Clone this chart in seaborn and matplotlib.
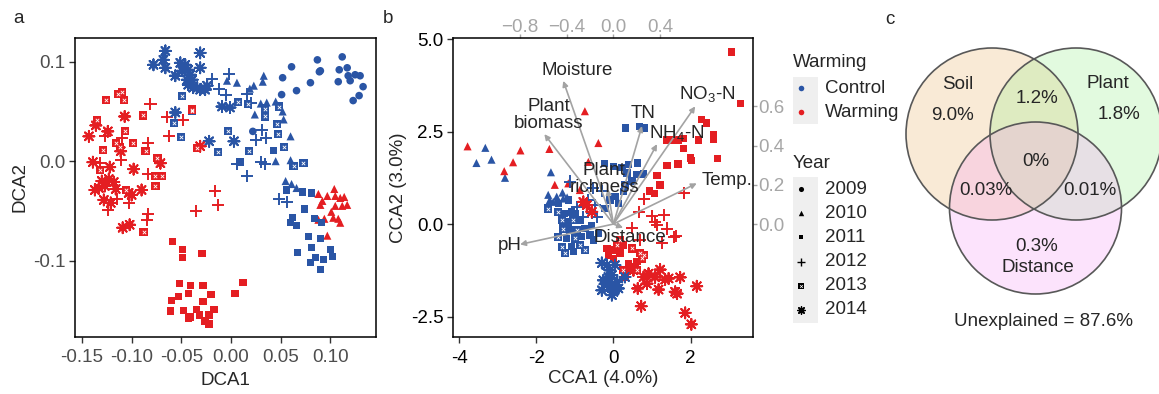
import matplotlib
matplotlib.use("Agg")
import pandas as pd
import matplotlib.pyplot as plt
from matplotlib.patches import Circle, Rectangle
import seaborn as sns

# ---------------- panel a: DCA scores (DCA1, DCA2) ----------------
a_ctrl_2009 = [(0.061, 0.095), (0.052, 0.084), (0.066, 0.071), (0.051, 0.067), (0.080, 0.079),
               (0.087, 0.102), (0.090, 0.091), (0.112, 0.105), (0.109, 0.092), (0.117, 0.094),
               (0.118, 0.086), (0.108, 0.080), (0.120, 0.081), (0.125, 0.087), (0.130, 0.086),
               (0.133, 0.075), (0.129, 0.066), (0.123, 0.061), (0.022, 0.030), (0.089, 0.090)]
a_ctrl_2010 = [(-0.004, 0.081), (0.006, 0.079), (0.023, 0.076), (0.019, 0.073), (0.033, 0.086),
               (0.032, 0.080), (0.030, 0.058), (0.036, 0.059), (0.045, 0.060), (0.052, 0.050),
               (0.053, 0.042), (0.024, 0.047), (0.060, 0.025), (0.045, 0.000), (0.060, 0.001),
               (0.055, -0.020), (0.061, -0.023), (0.066, -0.027)]
a_ctrl_2011 = [(0.009, -0.001), (0.043, 0.011), (0.056, -0.029), (0.072, -0.031), (0.081, -0.032),
               (0.074, -0.048), (0.062, -0.057), (0.060, -0.062), (0.066, -0.065), (0.084, -0.058),
               (0.091, -0.062), (0.078, -0.076), (0.090, -0.078), (0.067, -0.092), (0.081, -0.087),
               (0.100, -0.089), (0.102, -0.096), (0.085, -0.097), (0.080, -0.102), (0.093, -0.099),
               (0.090, -0.109)]
a_ctrl_2012 = [(-0.019, 0.083), (-0.002, 0.088), (-0.012, 0.073), (-0.005, 0.067), (0.016, 0.068),
               (0.020, 0.059), (0.031, 0.031), (0.035, 0.023), (0.025, 0.021), (0.006, -0.003),
               (0.030, -0.001), (0.034, -0.003), (0.016, -0.015), (0.048, -0.038), (0.056, -0.041)]
a_ctrl_2013 = [(-0.049, 0.066), (-0.057, 0.038), (-0.039, 0.051), (-0.050, 0.024), (-0.003, 0.030),
               (-0.013, 0.009), (0.007, 0.060), (0.017, 0.058), (0.034, 0.053), (0.034, 0.045),
               (0.048, 0.055), (0.047, 0.027), (0.053, 0.014), (0.018, 0.010), (0.063, -0.005),
               (0.073, -0.002), (0.046, 0.037)]
a_ctrl_2014 = [(-0.066, 0.111), (-0.068, 0.102), (-0.078, 0.097), (-0.066, 0.094), (-0.056, 0.086),
               (-0.051, 0.099), (-0.049, 0.091), (-0.046, 0.097), (-0.043, 0.092), (-0.041, 0.087),
               (-0.039, 0.082), (-0.044, 0.082), (-0.031, 0.109), (-0.031, 0.094), (-0.034, 0.074),
               (-0.031, 0.072), (-0.026, 0.072), (-0.024, 0.076), (-0.043, 0.077), (-0.038, 0.074),
               (-0.056, 0.049), (-0.009, 0.055), (-0.001, 0.054), (0.003, 0.020), (-0.022, 0.020)]
a_warm_2010 = [(0.104, -0.028), (0.088, -0.033), (0.097, -0.035), (0.092, -0.040), (0.090, -0.044),
               (0.105, -0.035), (0.110, -0.037), (0.114, -0.036), (0.112, -0.045), (0.117, -0.044),
               (0.105, -0.045), (0.101, -0.051), (0.094, -0.058), (0.088, -0.059), (0.103, -0.057),
               (0.108, -0.058), (0.110, -0.062), (0.097, -0.075)]
a_warm_2011 = [(-0.059, -0.081), (-0.049, -0.089), (-0.049, -0.097), (-0.029, -0.093), (-0.052, -0.123),
               (-0.041, -0.125), (-0.028, -0.125), (-0.043, -0.133), (-0.053, -0.136), (-0.020, -0.134),
               (-0.060, -0.140), (-0.028, -0.141), (-0.061, -0.151), (-0.048, -0.150), (-0.035, -0.149),
               (-0.017, -0.149), (-0.041, -0.157), (-0.032, -0.155), (-0.043, -0.158), (-0.022, -0.155),
               (-0.026, -0.161), (-0.022, -0.164), (0.012, -0.122), (0.004, -0.133)]
a_warm_2012 = [(-0.081, 0.058), (-0.064, 0.044), (-0.048, 0.041), (-0.062, 0.025), (-0.084, 0.018),
               (-0.127, 0.025), (-0.110, 0.023), (-0.111, 0.001), (-0.132, -0.002), (-0.084, -0.013),
               (-0.016, -0.030), (-0.013, -0.044), (-0.035, -0.050), (-0.084, -0.053), (-0.085, -0.059),
               (-0.103, -0.042), (-0.115, -0.038), (-0.124, -0.049)]
a_warm_2013 = [(-0.126, 0.062), (-0.114, 0.068), (-0.110, 0.070), (-0.108, 0.062), (-0.135, 0.041),
               (-0.089, 0.046), (-0.107, 0.030), (-0.129, 0.011), (-0.116, 0.018), (-0.112, 0.014),
               (-0.099, 0.018), (-0.086, 0.010), (-0.074, 0.003), (-0.132, -0.009), (-0.076, -0.015),
               (-0.069, -0.015), (-0.076, -0.025), (-0.106, -0.029), (-0.039, 0.052), (-0.034, 0.013),
               (-0.088, -0.071)]
a_warm_2014 = [(-0.143, 0.025), (-0.136, 0.036), (-0.124, 0.030), (-0.107, 0.045), (-0.139, -0.001),
               (-0.122, -0.006), (-0.098, -0.008), (-0.071, -0.002), (-0.031, 0.015), (-0.133, -0.027),
               (-0.130, -0.020), (-0.127, -0.025), (-0.123, -0.018), (-0.116, -0.028), (-0.111, 0.010),
               (-0.103, -0.032), (-0.100, -0.034), (-0.090, -0.029), (-0.128, -0.039), (-0.121, -0.042),
               (-0.109, -0.067), (-0.102, -0.064), (-0.137, -0.029), (-0.118, -0.021)]

# ---------------- panel b: CCA site scores (CCA1, CCA2) ----------------
b_ctrl_2010 = [(-3.32, 2.06), (-3.55, 1.65), (-3.16, 1.74), (-2.81, 1.25), (-1.62, 1.40), (-1.69, 0.79),
               (-1.47, 0.74), (-1.32, 0.85), (-1.56, 0.60), (-1.65, 0.65), (-1.30, 0.69), (-1.20, 0.72)]
b_ctrl_2011 = [(0.32, 2.60), (0.68, 2.63), (0.81, 2.60), (-0.23, 1.63), (0.00, 1.56), (0.22, 1.52),
               (0.39, 1.61), (0.62, 1.65), (0.61, 1.34), (0.78, 1.35), (0.35, 1.38), (0.48, 1.16),
               (0.04, 0.74), (-0.09, 0.65), (0.13, 0.56), (-0.22, 0.42), (0.26, 0.88), (0.30, 1.06),
               (-1.43, 0.56), (-1.17, 0.65), (-1.08, 0.33), (-1.00, 0.29), (-1.17, 0.06), (-0.87, 0.11),
               (-1.13, -0.16), (-0.74, -0.12), (-0.56, -0.03), (-1.21, -0.39), (-0.82, -0.34),
               (-0.61, -0.30), (-1.08, -0.61), (-1.04, -0.75), (-0.52, -0.43), (-0.39, -0.25), (-1.26, 0.29)]
b_ctrl_2012 = [(-1.13, 1.15), (-0.65, 0.65), (-0.78, 0.20), (-0.56, 0.29), (-0.43, 0.20), (-0.78, -0.61),
               (-0.48, 0.51), (-0.52, 0.97), (-0.95, 0.45), (-0.30, 0.90)]
b_ctrl_2013 = [(-1.69, 0.42), (-1.43, 0.33), (-1.34, 0.11), (-1.04, 0.11), (-1.30, -0.12), (-0.95, -0.16),
               (-1.43, -0.34), (-1.00, -0.39), (-1.34, -0.61), (-0.87, -0.57), (-1.26, -0.79), (-0.74, -0.70)]
b_ctrl_2014 = [(-0.30, -1.05), (-0.17, -1.11), (0.04, -1.11), (-0.09, -1.25), (-0.04, -1.38), (-0.26, -1.52),
               (-0.17, -1.61), (-0.30, -1.79), (-0.09, -1.70), (0.00, -1.83), (-0.04, -1.92), (0.13, -1.74),
               (0.09, -1.56), (-0.13, -1.43), (0.30, -1.43)]
b_warm_2010 = [(-3.78, 2.10), (-2.83, 1.43), (-2.60, 1.67), (-2.41, 1.99), (-1.66, 2.03), (-0.74, 3.05),
               (-0.39, 2.19), (-0.65, 1.68), (-1.52, 1.06), (-1.17, 1.10), (-0.87, 0.92)]
b_warm_2011 = [(3.06, 4.65), (3.29, 3.26), (2.29, 2.82), (2.42, 2.73), (1.39, 2.27), (1.56, 2.27),
               (1.69, 2.27), (1.82, 2.32), (2.21, 2.27), (2.60, 2.42), (2.60, 2.28), (1.82, 2.05),
               (1.99, 1.79), (2.03, 1.72), (2.70, 1.77), (1.39, 1.58), (1.67, 1.62), (1.13, 1.31),
               (1.21, 1.06), (1.06, 0.83), (0.94, 0.89),
               (-0.17, -0.66), (-0.04, -0.70), (0.09, -0.70), (0.17, -0.78), (0.00, -0.93), (-0.13, -0.84),
               (0.26, -0.57), (0.39, -1.06), (0.30, -1.43), (0.56, -1.16), (0.61, -1.02), (0.43, -1.25)]
b_warm_2012 = [(1.84, 0.85), (0.80, 0.69), (0.67, 0.32), (1.00, 0.22), (1.30, 0.24), (1.08, 0.06),
               (1.13, -0.03), (1.39, -0.12), (0.48, -0.10), (1.62, -0.32), (1.56, -0.34), (1.26, -0.52),
               (0.69, -0.42)]
b_warm_2013 = [(0.48, -0.66), (0.69, -0.79), (0.74, -0.93), (0.61, -1.25), (0.26, -1.25), (0.09, -0.57),
               (0.17, -0.43), (0.78, -0.84)]
b_warm_2014 = [(1.21, -1.23), (1.08, -1.44), (0.78, -1.43), (0.87, -1.61), (0.63, -1.74), (1.17, -1.77),
               (1.34, -1.50), (1.43, -1.47), (1.73, -1.44), (1.60, -1.83), (1.65, -1.88), (2.16, -1.68),
               (0.72, -2.22), (1.86, -2.40), (2.02, -2.71), (0.91, -1.34), (0.52, -1.25),
               (-0.78, 0.60), (-0.69, 0.51), (-0.56, 0.33)]

# environmental vectors (arrow tips) and their label anchors
env_names = ['Moisture', 'Plant\nbiomass', 'TN', 'NH$_4$-N', 'NO$_3$-N', 'Temp.',
             'Plant\nrichness', 'Distance', 'pH']
env_x = [-1.30, -1.79, 0.74, 1.13, 2.12, 2.16, -0.15, 0.25, -2.42]
env_y = [3.87, 2.43, 2.65, 2.16, 3.18, 1.10, 0.95, -0.10, -0.55]
env_lab_x = [-0.94, -1.67, 0.76, 1.65, 2.42, 2.94, -0.24, 0.43, -2.70]
env_lab_y = [4.14, 2.95, 2.98, 2.44, 3.49, 1.19, 1.22, -0.36, -0.57]

# ---------------- panel c: variation partitioning ----------------
venn_sets = ['Soil', 'Plant', 'Distance']
venn_unique = ['9.0%', '1.8%', '0.3%']
venn_pairs = ['1.2%', '0.03%', '0.01%']   # soil-plant, soil-distance, plant-distance
venn_all = '0%'
unexplained = 87.6

years = [2009, 2010, 2011, 2012, 2013, 2014]
treatments = ['Control', 'Warming']
pal = {'Control': '#2A55A5', 'Warming': '#E41E22'}
year_markers = {2009: 'o', 2010: '^', 2011: 's', 2012: '+', 2013: 's', 2014: (8, 2, 0)}
year_sizes = {2009: 30, 2010: 34, 2011: 28, 2012: 75, 2013: 34, 2014: 62}


def to_frame(groups):
    rows = []
    for (trt, yr), pts in groups.items():
        for x, y in pts:
            rows.append((x, y, trt, yr))
    return pd.DataFrame(rows, columns=['x', 'y', 'Warming', 'Year'])


dca = to_frame({('Control', 2009): a_ctrl_2009, ('Control', 2010): a_ctrl_2010,
                ('Control', 2011): a_ctrl_2011, ('Control', 2012): a_ctrl_2012,
                ('Control', 2013): a_ctrl_2013, ('Control', 2014): a_ctrl_2014,
                ('Warming', 2010): a_warm_2010, ('Warming', 2011): a_warm_2011,
                ('Warming', 2012): a_warm_2012, ('Warming', 2013): a_warm_2013,
                ('Warming', 2014): a_warm_2014})
cca = to_frame({('Control', 2010): b_ctrl_2010, ('Control', 2011): b_ctrl_2011,
                ('Control', 2012): b_ctrl_2012, ('Control', 2013): b_ctrl_2013,
                ('Control', 2014): b_ctrl_2014,
                ('Warming', 2010): b_warm_2010, ('Warming', 2011): b_warm_2011,
                ('Warming', 2012): b_warm_2012, ('Warming', 2013): b_warm_2013,
                ('Warming', 2014): b_warm_2014})

sns.set_style('ticks')
plt.rcParams['font.family'] = ['Liberation Sans', 'DejaVu Sans']
plt.rcParams['mathtext.fontset'] = 'custom'
plt.rcParams['mathtext.rm'] = 'Liberation Sans'
plt.rcParams['axes.unicode_minus'] = False
FS = 13.5


def draw_points(ax, df):
    for yr in years:
        sub = df[df['Year'] == yr]
        if sub.empty:
            continue
        m = year_markers[yr]
        lw = 1.4 if (m == '+' or isinstance(m, tuple)) else 0
        sns.scatterplot(data=sub, x='x', y='y', hue='Warming', palette=pal, marker=m,
                        s=year_sizes[yr], linewidth=lw, legend=False, ax=ax)
        if yr == 2013:
            ax.scatter(sub['x'], sub['y'], marker='x', s=6, c='white', linewidths=0.6, zorder=3)


def style_axes(ax, tick_color):
    for sp in ax.spines.values():
        sp.set_visible(True)
        sp.set_color('black')
        sp.set_linewidth(1.1)
    ax.tick_params(direction='out', length=4, width=1, color='#333333',
                   labelsize=FS, labelcolor=tick_color)
    ax.tick_params(axis='x', pad=5)
    ax.tick_params(axis='y', pad=3)


fig = plt.figure(figsize=(11.59, 3.94), dpi=100)

# ---- a ----
ax_a = fig.add_axes([75 / 1159, 1 - 337 / 394, 301 / 1159, 299 / 394])
draw_points(ax_a, dca)
ax_a.set_xlim(-0.157, 0.146)
ax_a.set_ylim(-0.177, 0.124)
ax_a.set_xticks([-0.15, -0.10, -0.05, 0.00, 0.05, 0.10])
ax_a.set_xticklabels(['-0.15', '-0.10', '-0.05', '0.00', '0.05', '0.10'])
ax_a.set_yticks([-0.1, 0.0, 0.1])
ax_a.set_yticklabels(['-0.1', '0.0', '0.1'])
ax_a.set_xlabel('DCA1', fontsize=FS, labelpad=4)
ax_a.set_ylabel('DCA2', fontsize=FS, labelpad=3)
style_axes(ax_a, '#4D4D4D')

# ---- b ----
ax_b = fig.add_axes([453.3 / 1159, 1 - 337.3 / 394, 299.4 / 1159, 299 / 394])
draw_points(ax_b, cca)
for name, tx, ty, lx, ly in zip(env_names, env_x, env_y, env_lab_x, env_lab_y):
    ax_b.annotate('', xy=(tx, ty), xytext=(0, 0),
                  arrowprops=dict(arrowstyle='-|>', color='#A3A3A3', lw=1.2,
                                  mutation_scale=8, shrinkA=0, shrinkB=0), zorder=4)
    ax_b.text(lx, ly, name, fontsize=FS, ha='center', va='center', linespacing=1.0, zorder=5)
ax_b.set_xlim(-4.15, 3.61)
ax_b.set_ylim(-3.06, 5.02)
ax_b.set_xticks([-4, -2, 0, 2])
ax_b.set_yticks([-2.5, 0.0, 2.5, 5.0])
ax_b.set_yticklabels(['-2.5', '0.0', '2.5', '5.0'])
ax_b.set_xlabel('CCA1 (4.0%)', fontsize=FS, labelpad=2)
ax_b.set_ylabel('CCA2 (3.0%)', fontsize=FS, labelpad=3)
style_axes(ax_b, 'black')

sec_col = '#A6A6A6'
top = ax_b.secondary_xaxis('top', functions=(lambda v: v / 3.03, lambda v: v * 3.03))
top.set_xticks([-0.8, -0.4, 0.0, 0.4])
top.set_xticklabels(['\u22120.8', '\u22120.4', '0.0', '0.4'])
right = ax_b.secondary_yaxis('right', functions=(lambda v: v / 5.3, lambda v: v * 5.3))
right.set_yticks([0.0, 0.2, 0.4, 0.6])
right.set_yticklabels(['0.0', '0.2', '0.4', '0.6'])
top.tick_params(length=3, width=1, color=sec_col, labelcolor=sec_col, labelsize=FS, pad=-1.5)
right.tick_params(length=3, width=1, color=sec_col, labelcolor=sec_col, labelsize=FS, pad=1)
for sec in (top, right):
    for sp in sec.spines.values():
        sp.set_visible(False)

# ---- overlay: panel letters, legends and venn ----
ov = fig.add_axes([0, 0, 1, 1])
ov.set_xlim(0, 1159)
ov.set_ylim(394, 0)
ov.axis('off')
ov.patch.set_alpha(0)

for lab, px, py in [('a', 19, 18), ('b', 388, 18), ('c', 890, 19)]:
    ov.text(px, py, lab, fontsize=FS, ha='center', va='center')

# legend: Warming
ov.text(793, 62, 'Warming', fontsize=FS, ha='left', va='center')
ov.add_patch(Rectangle((793, 77), 25, 47, facecolor='#EFEFEF', edgecolor='none'))
for i, trt in enumerate(treatments):
    yy = 88 + i * 24
    ov.scatter([801], [yy], s=16, color=pal[trt], marker='o', linewidths=0)
    ov.text(825, yy, trt, fontsize=FS, ha='left', va='center')

# legend: Year
ov.text(793, 163, 'Year', fontsize=FS, ha='left', va='center')
ov.add_patch(Rectangle((793, 177), 25, 146, facecolor='#EFEFEF', edgecolor='none'))
for i, yr in enumerate(years):
    yy = 189 + i * 24.2
    m = year_markers[yr]
    lw = 1.0 if (m == '+' or isinstance(m, tuple)) else 0
    ov.scatter([801], [yy], s=year_sizes[yr] * 0.45, color='black', marker=m, linewidths=lw)
    if yr == 2013:
        ov.scatter([801], [yy], s=4, c='white', marker='x', linewidths=0.5)
    ov.text(825, yy, str(yr), fontsize=FS, ha='left', va='center')

# venn diagram
venn_centers = [(992, 134), (1076, 134), (1035.5, 208)]
venn_fill = ['#EBAF5F', '#8FEF83', '#F793F7']
for c, col in zip(venn_centers, venn_fill):
    ov.add_patch(Circle(c, 86, facecolor=col, alpha=0.25, edgecolor='none'))
for c in venn_centers:
    ov.add_patch(Circle(c, 86, facecolor='none', edgecolor='#585858', lw=1.2))

ov.text(958, 84, venn_sets[0], fontsize=FS, ha='center', va='center')
ov.text(952, 115, venn_unique[0], fontsize=FS, ha='center', va='center')
ov.text(1108, 83, venn_sets[1], fontsize=FS, ha='center', va='center')
ov.text(1119, 114, venn_unique[1], fontsize=FS, ha='center', va='center')
ov.text(1037, 246, venn_unique[2], fontsize=FS, ha='center', va='center')
ov.text(1038, 267, venn_sets[2], fontsize=FS, ha='center', va='center')
ov.text(1037, 98, venn_pairs[0], fontsize=FS, ha='center', va='center')
ov.text(986, 190, venn_pairs[1], fontsize=FS, ha='center', va='center')
ov.text(1090, 190, venn_pairs[2], fontsize=FS, ha='center', va='center')
ov.text(1036, 161, venn_all, fontsize=FS, ha='center', va='center')
ov.text(1043, 322, f'Unexplained = {unexplained}%', fontsize=FS, ha='center', va='center')

fig.savefig('out.png', dpi=100)
